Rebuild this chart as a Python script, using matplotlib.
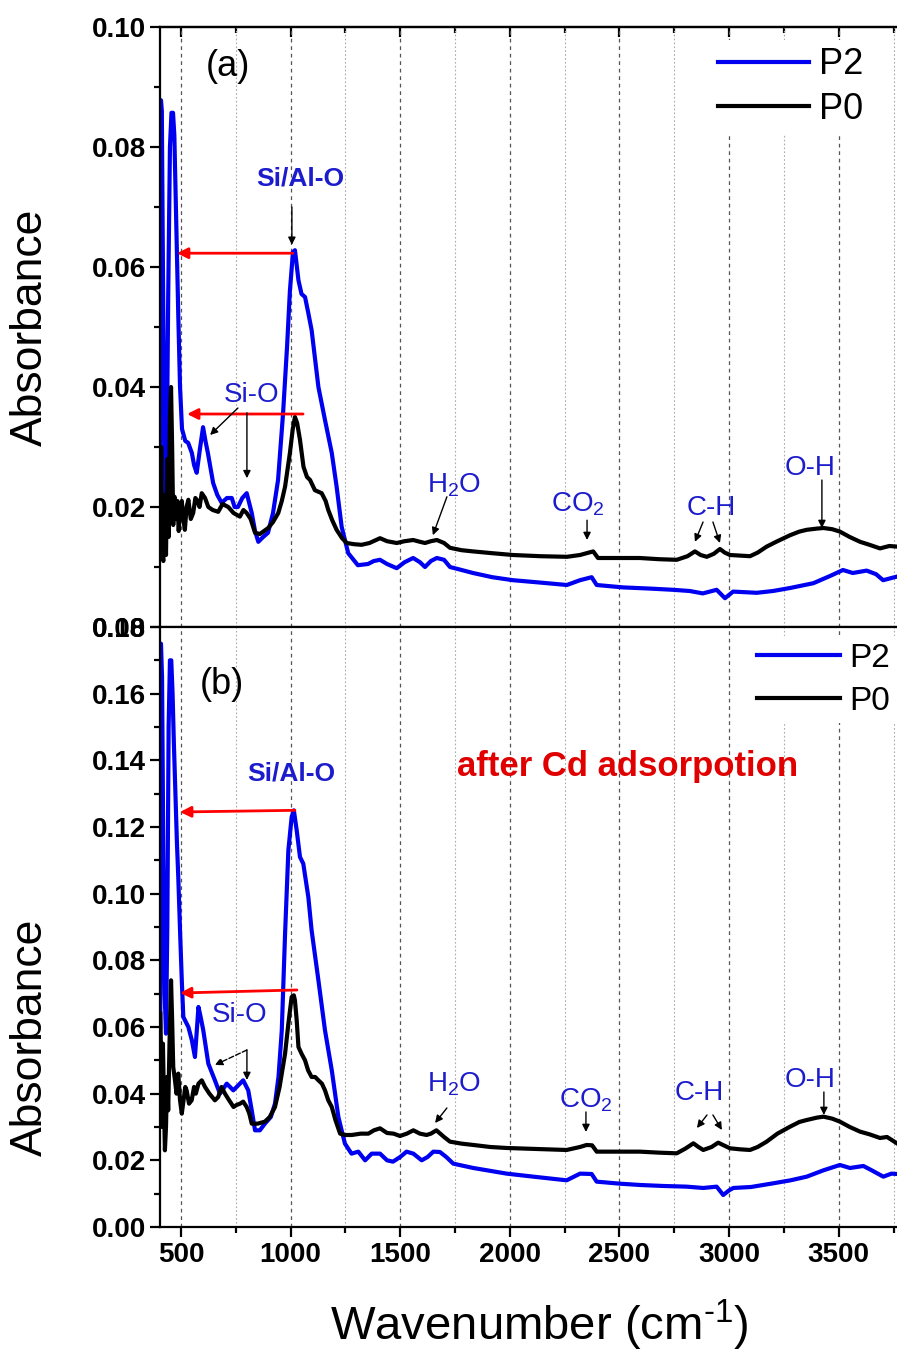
import matplotlib
matplotlib.use("Agg")
import matplotlib.pyplot as plt
from matplotlib.ticker import MultipleLocator, FormatStrFormatter

plt.rcParams['font.family'] = ['Liberation Sans', 'DejaVu Sans']
plt.rcParams['mathtext.default'] = 'regular'

# (wavenumber, absorbance)
p2_before = [(406, 0.021), (409, 0.0878), (413, 0.086), (418, 0.060), (424, 0.035), (430, 0.0195),
             (436, 0.030), (442, 0.055), (450, 0.080), (457, 0.0857), (464, 0.0857), (470, 0.082),
             (476, 0.072), (482, 0.062), (488, 0.052), (496, 0.040), (505, 0.033), (520, 0.031),
             (533, 0.0307), (550, 0.029), (560, 0.027), (572, 0.0257), (588, 0.030), (601, 0.0333),
             (612, 0.031), (623, 0.029), (647, 0.024), (666, 0.022), (686, 0.0207), (710, 0.0215),
             (732, 0.0215), (745, 0.020), (760, 0.020), (780, 0.0215), (800, 0.0223), (823, 0.019),
             (838, 0.016), (853, 0.0142), (875, 0.015), (897, 0.0157), (920, 0.019), (943, 0.0245),
             (966, 0.0357), (984, 0.0467), (997, 0.056), (1011, 0.0625), (1020, 0.0628), (1036, 0.0578),
             (1050, 0.0555), (1066, 0.055), (1080, 0.0525), (1096, 0.0495), (1127, 0.040), (1157, 0.0345),
             (1188, 0.029), (1210, 0.0234), (1233, 0.0167), (1263, 0.0123), (1307, 0.0103), (1353, 0.0105),
             (1380, 0.011), (1408, 0.0112), (1440, 0.0105), (1484, 0.0098), (1520, 0.0108), (1559, 0.0115),
             (1590, 0.0108), (1613, 0.010), (1640, 0.011), (1667, 0.0115), (1700, 0.0112), (1727, 0.010),
             (1780, 0.0095), (1832, 0.009), (1920, 0.0083), (2014, 0.0078), (2140, 0.0074), (2260, 0.007),
             (2320, 0.0078), (2373, 0.0083), (2396, 0.007), (2516, 0.0066), (2640, 0.0064), (2744, 0.0062),
             (2820, 0.0060), (2880, 0.0056), (2943, 0.0062), (2981, 0.0048), (3018, 0.0059), (3126, 0.0057),
             (3200, 0.006), (3278, 0.0065), (3384, 0.0073), (3460, 0.0085), (3519, 0.0095), (3564, 0.009),
             (3627, 0.0094), (3670, 0.0088), (3702, 0.0078), (3765, 0.0084)]

p0_before = [(406, 0.016), (410, 0.030), (414, 0.012), (420, 0.011), (426, 0.022), (432, 0.012),
             (438, 0.028), (444, 0.015), (450, 0.035), (455, 0.040), (460, 0.030), (465, 0.017),
             (471, 0.0217), (478, 0.018), (484, 0.021), (490, 0.016), (496, 0.0195), (504, 0.021),
             (511, 0.018), (518, 0.0162), (526, 0.020), (534, 0.0212), (545, 0.018), (556, 0.019),
             (566, 0.0215), (576, 0.021), (585, 0.020), (595, 0.0223), (610, 0.0215), (625, 0.020),
             (645, 0.0195), (670, 0.0192), (690, 0.0205), (716, 0.020), (740, 0.019), (769, 0.0184),
             (785, 0.0195), (800, 0.019), (818, 0.018), (838, 0.0157), (860, 0.0155), (898, 0.0165),
             (920, 0.0175), (944, 0.019), (960, 0.021), (975, 0.0234), (997, 0.029), (1010, 0.033),
             (1020, 0.035), (1030, 0.034), (1043, 0.0312), (1059, 0.0267), (1075, 0.025), (1089, 0.0245),
             (1111, 0.0228), (1142, 0.0223), (1160, 0.021), (1172, 0.0195), (1190, 0.0178), (1210, 0.0162),
             (1235, 0.0148), (1256, 0.014), (1290, 0.0138), (1324, 0.0137), (1360, 0.014), (1408, 0.0148),
             (1440, 0.0143), (1484, 0.014), (1520, 0.0143), (1559, 0.0145), (1590, 0.0142), (1613, 0.014),
             (1640, 0.0143), (1667, 0.0145), (1700, 0.014), (1727, 0.0132), (1780, 0.0128), (1832, 0.0126),
             (1920, 0.0123), (2014, 0.012), (2140, 0.0118), (2260, 0.0117), (2320, 0.012), (2350, 0.0123),
             (2380, 0.0126), (2402, 0.0115), (2500, 0.0115), (2593, 0.0115), (2680, 0.0113), (2761, 0.0112),
             (2810, 0.0118), (2844, 0.0126), (2870, 0.012), (2898, 0.0117), (2930, 0.0122), (2958, 0.013),
             (2980, 0.0124), (3004, 0.012), (3050, 0.0119), (3095, 0.0118), (3130, 0.0124), (3171, 0.0134),
             (3220, 0.0143), (3278, 0.0153), (3320, 0.0159), (3354, 0.0162), (3400, 0.0164), (3430, 0.0165),
             (3470, 0.0163), (3505, 0.0159), (3550, 0.015), (3597, 0.0142), (3640, 0.0137), (3688, 0.0131),
             (3730, 0.0135), (3765, 0.0134)]

p2_after = [(406, 0.060), (409, 0.175), (414, 0.165), (420, 0.110), (426, 0.070), (432, 0.058),
            (438, 0.090), (444, 0.150), (450, 0.170), (456, 0.170), (462, 0.160), (468, 0.145),
            (475, 0.130), (482, 0.115), (488, 0.105), (496, 0.089), (504, 0.074), (511, 0.063),
            (534, 0.060), (550, 0.056), (564, 0.051), (580, 0.066), (590, 0.063), (602, 0.059),
            (625, 0.049), (655, 0.044), (678, 0.040), (709, 0.043), (739, 0.041), (784, 0.044),
            (807, 0.041), (823, 0.035), (838, 0.029), (860, 0.029), (883, 0.031), (910, 0.033),
            (929, 0.037), (945, 0.045), (960, 0.059), (975, 0.088), (990, 0.113), (1005, 0.123),
            (1015, 0.125), (1028, 0.119), (1043, 0.111), (1058, 0.109), (1081, 0.099), (1096, 0.089),
            (1127, 0.074), (1157, 0.059), (1188, 0.047), (1218, 0.033), (1248, 0.025), (1278, 0.022),
            (1309, 0.0226), (1340, 0.020), (1370, 0.022), (1408, 0.022), (1440, 0.020), (1467, 0.0196),
            (1500, 0.021), (1529, 0.0226), (1560, 0.022), (1598, 0.020), (1625, 0.021), (1651, 0.0226),
            (1681, 0.0225), (1710, 0.021), (1742, 0.019), (1833, 0.0177), (1986, 0.016), (2120, 0.015),
            (2259, 0.014), (2320, 0.016), (2373, 0.0159), (2396, 0.0136), (2500, 0.013), (2593, 0.0126),
            (2700, 0.0123), (2806, 0.0121), (2882, 0.0117), (2943, 0.0121), (2973, 0.0096), (3000, 0.011),
            (3019, 0.0117), (3100, 0.012), (3201, 0.0131), (3280, 0.014), (3354, 0.0151), (3430, 0.017),
            (3505, 0.0186), (3551, 0.0177), (3612, 0.0183), (3650, 0.017), (3703, 0.0151), (3740, 0.016),
            (3765, 0.0159)]

p0_after = [(406, 0.064), (410, 0.050), (414, 0.030), (418, 0.055), (422, 0.040), (427, 0.023),
            (432, 0.030), (437, 0.045), (442, 0.035), (448, 0.055), (455, 0.074), (460, 0.062),
            (465, 0.048), (473, 0.044), (480, 0.040), (488, 0.046), (496, 0.038), (504, 0.034),
            (512, 0.038), (520, 0.042), (526, 0.041), (537, 0.037), (549, 0.038), (560, 0.042),
            (568, 0.040), (580, 0.043), (595, 0.044), (610, 0.042), (630, 0.040), (655, 0.038),
            (670, 0.039), (685, 0.042), (701, 0.040), (720, 0.038), (740, 0.036), (754, 0.0366),
            (770, 0.037), (784, 0.0376), (800, 0.036), (812, 0.034), (823, 0.031), (850, 0.031),
            (883, 0.0316), (905, 0.033), (929, 0.036), (950, 0.042), (975, 0.052), (990, 0.061),
            (1005, 0.069), (1015, 0.0695), (1020, 0.068), (1028, 0.062), (1036, 0.054), (1050, 0.052),
            (1066, 0.050), (1080, 0.047), (1096, 0.045), (1112, 0.045), (1127, 0.044), (1143, 0.043),
            (1157, 0.041), (1172, 0.038), (1188, 0.036), (1205, 0.032), (1226, 0.028), (1250, 0.0276),
            (1279, 0.0276), (1320, 0.028), (1355, 0.028), (1380, 0.029), (1408, 0.0296), (1440, 0.0282),
            (1470, 0.028), (1499, 0.0273), (1530, 0.028), (1560, 0.029), (1590, 0.028), (1620, 0.0276),
            (1640, 0.028), (1665, 0.029), (1700, 0.027), (1727, 0.0256), (1780, 0.025), (1834, 0.0246),
            (1910, 0.024), (1986, 0.0237), (2120, 0.0234), (2259, 0.0231), (2320, 0.024), (2350, 0.0246),
            (2375, 0.0245), (2396, 0.0226), (2500, 0.0226), (2593, 0.0226), (2680, 0.0223), (2761, 0.0221),
            (2800, 0.0235), (2837, 0.0251), (2860, 0.024), (2882, 0.0231), (2920, 0.024), (2950, 0.0253),
            (2975, 0.0245), (3004, 0.0236), (3050, 0.0233), (3095, 0.0231), (3130, 0.024), (3171, 0.0256),
            (3220, 0.028), (3278, 0.0301), (3320, 0.0315), (3354, 0.0321), (3400, 0.0328), (3430, 0.0331),
            (3470, 0.0325), (3505, 0.0316), (3550, 0.030), (3597, 0.0286), (3640, 0.0278), (3688, 0.0267),
            (3720, 0.027), (3765, 0.0251)]

BLUE = '#0000f0'
TXT_BLUE = '#1c1ccc'

fig = plt.figure(figsize=(8.97, 13.51), dpi=100)
ax1 = fig.add_axes([0.1787, 0.5359, 0.83, 0.4441])
ax2 = fig.add_axes([0.1787, 0.0918, 0.83, 0.4441])


def style_axes(ax, ymax):
    ax.set_xlim(406, 3801)
    ax.set_ylim(0, ymax)
    ax.xaxis.set_major_locator(MultipleLocator(500))
    ax.xaxis.set_minor_locator(MultipleLocator(250))
    ax.yaxis.set_major_locator(MultipleLocator(0.02))
    ax.yaxis.set_minor_locator(MultipleLocator(0.01))
    ax.yaxis.set_major_formatter(FormatStrFormatter('%.2f'))
    ax.grid(True, which='major', axis='x', color='#555555', ls=(0, (3, 3)), lw=0.9)
    ax.grid(True, which='minor', axis='x', color='#aaaaaa', ls=(0, (1.5, 2)), lw=0.8)
    ax.set_axisbelow(True)
    ax.spines['right'].set_visible(False)
    for s in ['left', 'top', 'bottom']:
        ax.spines[s].set_linewidth(1.6)
    ax.tick_params(which='both', direction='out', width=1.6, top=False, right=False)
    ax.tick_params(which='major', length=7)
    ax.tick_params(which='minor', length=4)
    ax.tick_params(axis='y', labelsize=20)
    for lab in ax.get_yticklabels():
        lab.set_fontweight('bold')


style_axes(ax1, 0.10)
style_axes(ax2, 0.18)
ax1.tick_params(axis='x', labelbottom=False)
ax2.tick_params(axis='x', labelsize=20)
for lab in ax2.get_xticklabels():
    lab.set_fontweight('bold')

# inward ticks along the top of panel (a)
sec = ax1.secondary_xaxis('top')
sec.xaxis.set_major_locator(MultipleLocator(500))
sec.xaxis.set_minor_locator(MultipleLocator(250))
sec.tick_params(which='both', direction='in', width=1.6, labeltop=False)
sec.tick_params(which='major', length=7)
sec.tick_params(which='minor', length=4)
sec.spines['top'].set_linewidth(1.6)

lines = {}
for ax, p2, p0 in [(ax1, p2_before, p0_before), (ax2, p2_after, p0_after)]:
    wn2, ab2 = zip(*p2)
    wn0, ab0 = zip(*p0)
    h2, = ax.plot(wn2, ab2, color=BLUE, lw=3, label='P2')
    h0, = ax.plot(wn0, ab0, color='black', lw=3, label='P0')
    lines[ax] = (h2, h0)

leg_kw = dict(loc='upper left', bbox_transform=fig.transFigure, handletextpad=0.28,
              handlelength=2.5, borderpad=0.2, borderaxespad=0,
              frameon=True, fancybox=False, edgecolor='none', facecolor='white', framealpha=1)
ax1.legend(handles=list(lines[ax1]), fontsize=26, labelspacing=0.26,
           bbox_to_anchor=(711 / 897, 1 - 40 / 1351), **leg_kw)
ax2.legend(handles=list(lines[ax2]), fontsize=24, labelspacing=0.36,
           bbox_to_anchor=(750 / 897, 1 - 636 / 1351), **leg_kw)

red_arrow = dict(arrowstyle='-|>', color='red', lw=2, mutation_scale=16, shrinkA=0, shrinkB=0)
blk_arrow = dict(arrowstyle='-|>', color='black', lw=1, mutation_scale=11, shrinkA=0, shrinkB=0)
blk_dash = dict(arrowstyle='-|>', color='black', lw=1, mutation_scale=11, shrinkA=0, shrinkB=0, ls='--')

# panel (a)
ax1.text(715, 0.0935, '(a)', fontsize=26, ha='center', va='center')
ax1.text(1043, 0.0747, 'Si/Al-O', fontsize=19, fontweight='bold', color=TXT_BLUE, ha='center', va='center')
ax1.annotate('', xy=(1006, 0.0637), xytext=(1006, 0.0700), arrowprops=blk_arrow)
ax1.annotate('', xy=(482, 0.0623), xytext=(1010, 0.0623), arrowprops=red_arrow)
ax1.text(820, 0.0387, 'Si-O', fontsize=20, color=TXT_BLUE, ha='center', va='center')
ax1.annotate('', xy=(528, 0.0355), xytext=(1057, 0.0355), arrowprops=red_arrow)
ax1.annotate('', xy=(633, 0.0320), xytext=(760, 0.0365), arrowprops=blk_arrow)
ax1.annotate('', xy=(801, 0.0248), xytext=(801, 0.0357), arrowprops=blk_arrow)
ax1.text(1747, 0.0225, 'H$_2$O', fontsize=20, color=TXT_BLUE, ha='center', va='baseline')
ax1.annotate('', xy=(1649, 0.0153), xytext=(1713, 0.0217), arrowprops=blk_arrow)
ax1.text(2311, 0.0192, 'CO$_2$', fontsize=20, color=TXT_BLUE, ha='center', va='baseline')
ax1.annotate('', xy=(2352, 0.0145), xytext=(2352, 0.0178), arrowprops=blk_arrow)
ax1.text(2917, 0.0187, 'C-H', fontsize=20, color=TXT_BLUE, ha='center', va='baseline')
ax1.annotate('', xy=(2844, 0.0142), xytext=(2881, 0.0175), arrowprops=blk_arrow)
ax1.annotate('', xy=(2958, 0.0140), xytext=(2926, 0.0175), arrowprops=blk_arrow)
ax1.text(3369, 0.0253, 'O-H', fontsize=20, color=TXT_BLUE, ha='center', va='baseline')
ax1.annotate('', xy=(3423, 0.0165), xytext=(3423, 0.0245), arrowprops=blk_arrow)

# panel (b)
ax2.text(687, 0.1626, '(b)', fontsize=26, ha='center', va='center')
ax2.text(1002, 0.1359, 'Si/Al-O', fontsize=19, fontweight='bold', color=TXT_BLUE, ha='center', va='center')
ax2.annotate('', xy=(496, 0.1245), xytext=(1020, 0.1250), arrowprops=red_arrow)
ax2.text(2539, 0.1353, 'after Cd adsorpotion', fontsize=25, fontweight='bold', color='#e00000',
         ha='center', va='baseline')
ax2.annotate('', xy=(496, 0.0702), xytext=(1029, 0.0711), arrowprops=red_arrow)
ax2.text(769, 0.0615, 'Si-O', fontsize=20, color=TXT_BLUE, ha='center', va='baseline')
ax2.annotate('', xy=(655, 0.0486), xytext=(801, 0.0531), arrowprops=blk_dash)
ax2.annotate('', xy=(801, 0.0441), xytext=(801, 0.0531), arrowprops=blk_arrow)
ax2.text(1747, 0.0405, 'H$_2$O', fontsize=20, color=TXT_BLUE, ha='center', va='baseline')
ax2.annotate('', xy=(1659, 0.0312), xytext=(1713, 0.0357), arrowprops=blk_arrow)
ax2.text(2347, 0.0357, 'CO$_2$', fontsize=20, color=TXT_BLUE, ha='center', va='baseline')
ax2.annotate('', xy=(2347, 0.0285), xytext=(2347, 0.0345), arrowprops=blk_arrow)
ax2.text(2862, 0.0381, 'C-H', fontsize=20, color=TXT_BLUE, ha='center', va='baseline')
ax2.annotate('', xy=(2853, 0.0297), xytext=(2899, 0.0336), arrowprops=blk_arrow)
ax2.annotate('', xy=(2967, 0.0291), xytext=(2926, 0.0336), arrowprops=blk_arrow)
ax2.text(3369, 0.0420, 'O-H', fontsize=20, color=TXT_BLUE, ha='center', va='baseline')
ax2.annotate('', xy=(3432, 0.0336), xytext=(3432, 0.0405), arrowprops=blk_arrow)

fig.text(30 / 897, 0.7576, 'Absorbance', rotation=90, fontsize=32, ha='center', va='center')
fig.text(30 / 897, 0.2324, 'Absorbance', rotation=90, fontsize=32, ha='center', va='center')
fig.text(0.601, 0.0192, 'Wavenumber (cm$^{\u20101}$)', fontsize=34, ha='center', va='center')

fig.savefig('out.png', dpi=100)
